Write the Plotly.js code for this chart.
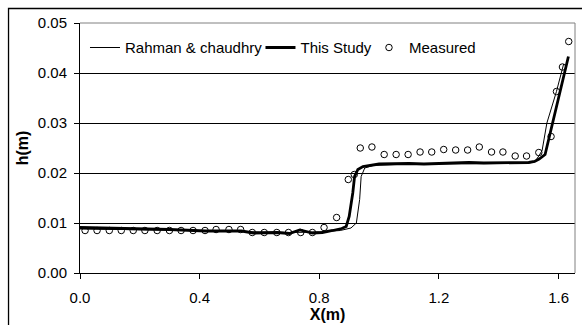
<!DOCTYPE html>
<html>
<head>
<meta charset="utf-8">
<script src="https://cdn.plot.ly/plotly-3.0.1.min.js"></script>
<style>
  html, body { margin: 0; padding: 0; background: #fff; }
  #chart { width: 582px; height: 325px; }
</style>
</head>
<body>
<div id="chart"></div>
<script>
// Measured data points
const measuredX = [0.017, 0.057, 0.098, 0.138, 0.178, 0.217, 0.258, 0.299, 0.338, 0.378,
  0.418, 0.455, 0.498, 0.537, 0.576, 0.616, 0.658, 0.697, 0.738, 0.777,
  0.816, 0.858, 0.897, 0.917, 0.937, 0.976, 1.017, 1.057, 1.097, 1.137,
  1.176, 1.216, 1.256, 1.296, 1.335, 1.376, 1.414, 1.455, 1.493, 1.534,
  1.575, 1.593, 1.613, 1.634];
const measuredH = [0.0085, 0.0085, 0.0085, 0.0085, 0.0085, 0.0085, 0.0085, 0.0085, 0.0085, 0.0085,
  0.0085, 0.0087, 0.0087, 0.0087, 0.0081, 0.0081, 0.0081, 0.0081, 0.0081, 0.0081,
  0.0091, 0.0111, 0.0187, 0.0197, 0.0250, 0.0252, 0.0237, 0.0237, 0.0237, 0.0242,
  0.0242, 0.0247, 0.0246, 0.0246, 0.0252, 0.0242, 0.0242, 0.0234, 0.0234, 0.0241,
  0.0273, 0.0363, 0.0412, 0.0463];

// This Study (thick line)
const studyX = [0.0, 0.1, 0.2, 0.3, 0.42, 0.5, 0.54, 0.58, 0.62, 0.66, 0.70, 0.735,
  0.777, 0.81, 0.845, 0.875, 0.89, 0.90, 0.912, 0.918, 0.929, 0.946, 1.0, 1.05,
  1.1, 1.15, 1.2, 1.25, 1.3, 1.35, 1.4, 1.45, 1.5, 1.52, 1.535, 1.555, 1.595, 1.633];
const studyH = [0.0091, 0.0090, 0.0088, 0.0087, 0.0084, 0.0085, 0.0084, 0.0080, 0.0080, 0.0081, 0.0079, 0.0086,
  0.0080, 0.0081, 0.0085, 0.0089, 0.0093, 0.0113, 0.0160, 0.0193, 0.0207, 0.0213, 0.0218, 0.0219,
  0.0219, 0.0218, 0.0219, 0.0220, 0.0221, 0.0220, 0.0220, 0.0220, 0.0221, 0.0223, 0.0228, 0.0237, 0.0335, 0.0433];

// Rahman & chaudhry (thin line)
const rahmanX = [0.0, 0.2, 0.4, 0.6, 0.7, 0.8, 0.87, 0.906, 0.924, 0.935, 0.94, 0.952,
  0.98, 1.1, 1.2, 1.3, 1.4, 1.5, 1.52, 1.535, 1.545, 1.561, 1.593, 1.617];
const rahmanH = [0.0088, 0.0087, 0.0085, 0.0082, 0.0081, 0.0082, 0.0085, 0.0090, 0.0100, 0.0147, 0.0193, 0.0210,
  0.0215, 0.0218, 0.0218, 0.0219, 0.0219, 0.0220, 0.0222, 0.0235, 0.0245, 0.0300, 0.0363, 0.0418];

const xTicks = [0.0, 0.4, 0.8, 1.2, 1.6];
const yTicks = [0.00, 0.01, 0.02, 0.03, 0.04, 0.05];

const FONT = 'Liberation Sans, Arial, sans-serif';

const traces = [
  { x: rahmanX, y: rahmanH, name: 'Rahman & chaudhry', type: 'scatter', mode: 'lines',
    line: { color: '#000', width: 1 }, legend: 'legend' },
  { x: studyX, y: studyH, name: 'This Study', type: 'scatter', mode: 'lines',
    line: { color: '#000', width: 2.8 }, legend: 'legend2' },
  { x: measuredX, y: measuredH, name: 'Measured', type: 'scatter', mode: 'markers',
    marker: { symbol: 'circle-open', size: 6.5, color: '#000', line: { width: 1, color: '#000' } },
    legend: 'legend3' }
];

const legendBase = {
  orientation: 'h', xanchor: 'left', yanchor: 'middle', y: 0.901,
  bgcolor: 'rgba(0,0,0,0)', borderwidth: 0, itemwidth: 30,
  font: { family: FONT, size: 15, color: '#000' }
};

const layout = {
  width: 582, height: 325,
  margin: { l: 80, r: 7, t: 23, b: 52 },
  paper_bgcolor: '#fff', plot_bgcolor: '#fff',
  font: { family: FONT, size: 15, color: '#000' },
  showlegend: true,
  legend: Object.assign({}, legendBase, { x: 0.0101 }),
  legend2: Object.assign({}, legendBase, { x: 0.3646 }),
  legend3: Object.assign({}, legendBase, { x: 0.5838 }),
  xaxis: {
    range: [0, 1.655], tickvals: xTicks, ticktext: xTicks.map(v => v.toFixed(1)),
    ticks: 'outside', ticklen: 5, tickcolor: '#000', tickwidth: 1, ticklabelstandoff: 6,
    showline: true, linecolor: '#000', linewidth: 1, mirror: false,
    showgrid: false, zeroline: false,
    tickfont: { family: FONT, size: 15, color: '#000' },
    title: { text: '<b>X(m)</b>', font: { family: FONT, size: 16, color: '#000' }, standoff: 3 }
  },
  yaxis: {
    range: [0, 0.05], tickvals: yTicks, ticktext: yTicks.map(v => v.toFixed(2)),
    ticks: 'outside', ticklen: 5, tickcolor: '#000', tickwidth: 1, ticklabelstandoff: 4,
    showline: true, linecolor: '#000', linewidth: 1,
    showgrid: true, gridcolor: '#000', gridwidth: 1, zeroline: false,
    tickfont: { family: FONT, size: 15, color: '#000' },
    title: { text: '<b>h(m)</b>', font: { family: FONT, size: 16, color: '#000' }, standoff: 5 }
  },
  shapes: [
    { type: 'line', xref: 'x domain', yref: 'y domain', x0: 1, x1: 1, y0: 0, y1: 1,
      line: { color: '#808080', width: 1 } },
    { type: 'line', xref: 'x domain', yref: 'y domain', x0: 0, x1: 1, y0: 1, y1: 1,
      line: { color: '#808080', width: 1 } },
    { type: 'rect', xref: 'paper', yref: 'paper', x0: -0.1444, x1: 1.05, y0: -0.3, y1: 1.058,
      line: { color: '#000', width: 1.3 } }
  ]
};

Plotly.newPlot('chart', traces, layout, { displayModeBar: false, staticPlot: true });
</script>
</body>
</html>
